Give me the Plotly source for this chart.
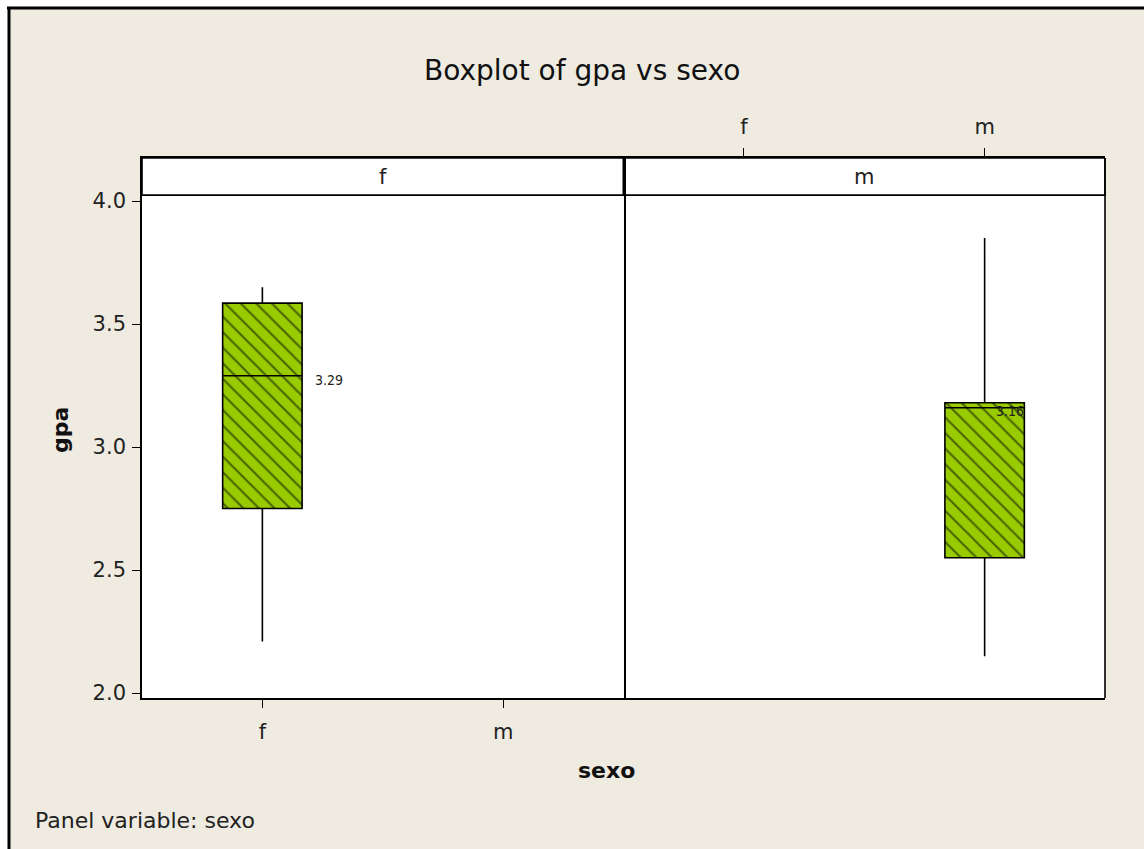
import plotly.graph_objects as go

# Summary statistics of gpa by sexo (one panel per level)
panels = ["f", "m"]
categories = ["f", "m"]
box_pos = [0, 1]            # category index of each panel's box
q1 = [2.75, 2.55]
median = [3.29, 3.16]
q3 = [3.585, 3.18]
low_whisker = [2.21, 2.15]
high_whisker = [3.65, 3.85]
y_ticks = [2.0, 2.5, 3.0, 3.5, 4.0]

BG = "#EFEBE1"
GREEN = "#99CC00"
FONT = "DejaVu Sans"

W, H = 1144, 849
L, R, T, B = 142, 39, 158, 151
PW, PH = W - L - R, H - T - B


def px_x(px):
    return (px - L) / PW


def px_y(py):
    return (H - B - py) / PH


fig = go.Figure()

axis_names = [("x", "y"), ("x2", "y2")]
for i, p in enumerate(panels):
    xa, ya = axis_names[i]
    fig.add_trace(go.Bar(
        x=[box_pos[i]], base=[q1[i]], y=[q3[i] - q1[i]], width=0.33,
        marker=dict(color=GREEN, line=dict(width=0),
                    pattern=dict(shape="\\", fgcolor="black", bgcolor=GREEN,
                                 size=11, solidity=0.2)),
        xaxis=xa, yaxis=ya, hoverinfo="skip", showlegend=False,
    ))
    fig.add_trace(go.Box(
        x=[box_pos[i]], q1=[q1[i]], median=[median[i]], q3=[q3[i]],
        lowerfence=[low_whisker[i]], upperfence=[high_whisker[i]],
        width=0.33, fillcolor="rgba(0,0,0,0)",
        line=dict(color="black", width=1.6), whiskerwidth=0,
        boxpoints=False, xaxis=xa, yaxis=ya, hoverinfo="skip", showlegend=False,
    ))

y_range = [1.98, 4.175]
strip_bottom = 4.024
TICK_FONT = dict(family=FONT, size=21, color="#222")

common_x = dict(range=[-0.5, 1.5], tickvals=[0, 1], ticktext=categories,
                showline=True, linecolor="black", linewidth=1.6, mirror=True,
                ticks="outside", ticklen=8, tickcolor="black", showgrid=False,
                zeroline=False, ticklabelstandoff=6, tickfont=TICK_FONT)
fig.update_layout(
    width=W, height=H,
    margin=dict(l=L, r=R, t=T, b=B),
    paper_bgcolor=BG, plot_bgcolor="white",
    showlegend=False, barmode="overlay",
    xaxis=dict(domain=[0, 0.5], anchor="y", side="bottom", **common_x),
    xaxis2=dict(domain=[0.5, 1], anchor="y2", side="top", **common_x),
    yaxis=dict(range=y_range, tickvals=y_ticks, ticktext=[f"{v:.1f}" for v in y_ticks],
               showline=True, linecolor="black", linewidth=1.6, mirror=True,
               ticks="outside", ticklen=8, tickcolor="black", showgrid=False,
               zeroline=False, ticklabelstandoff=2, tickfont=TICK_FONT),
    yaxis2=dict(range=y_range, anchor="x2", matches="y", showticklabels=False,
                showline=False, ticks="", showgrid=False, zeroline=False),
)

shapes = [
    # white margin outside the dark page frame (top and left)
    dict(type="rect", xref="paper", yref="paper", x0=px_x(-2), x1=px_x(W + 2),
         y0=px_y(7), y1=px_y(-2), fillcolor="white", line=dict(width=0)),
    dict(type="rect", xref="paper", yref="paper", x0=px_x(-2), x1=px_x(8),
         y0=px_y(H + 2), y1=px_y(-2), fillcolor="white", line=dict(width=0)),
    dict(type="line", xref="paper", yref="paper", x0=px_x(7), x1=px_x(W + 2),
         y0=px_y(8), y1=px_y(8), line=dict(color="black", width=3)),
    dict(type="line", xref="paper", yref="paper", x0=px_x(9), x1=px_x(9),
         y0=px_y(7), y1=px_y(H + 2), line=dict(color="black", width=3)),
    # right edge of the second panel
    dict(type="line", xref="x2 domain", yref="y2 domain", x0=1, x1=1, y0=0, y1=1,
         line=dict(color="black", width=1.6)),
]
for i, p in enumerate(panels):
    xa, ya = axis_names[i]
    shapes.append(dict(type="rect", xref=f"{xa} domain", yref=ya, x0=0, x1=1,
                       y0=strip_bottom, y1=y_range[1], fillcolor="white",
                       line=dict(color="black", width=1.6), layer="below"))

annotations = []
for i, p in enumerate(panels):
    xa, ya = axis_names[i]
    annotations.append(dict(xref=f"{xa} domain", yref=ya, x=0.5,
                            y=(strip_bottom + y_range[1]) / 2, text=p, showarrow=False,
                            xanchor="center", yanchor="middle",
                            font=dict(family=FONT, size=21, color="#222")))

# median value labels
LABEL_FONT = dict(family="DejaVu Sans Condensed, DejaVu Sans", size=14, color="#222")
annotations.append(dict(xref="x", yref="y", x=0.21, y=median[0], text=f"{median[0]:.2f}",
                        xanchor="left", yanchor="middle", yshift=-4, showarrow=False,
                        font=LABEL_FONT))
annotations.append(dict(xref="x2", yref="y2", x=1.04, y=median[1], text=f"{median[1]:.2f}",
                        xanchor="left", yanchor="middle", yshift=-3, showarrow=False,
                        font=LABEL_FONT))

annotations += [
    dict(xref="paper", yref="paper", x=px_x(582), y=px_y(70), text="Boxplot of gpa vs sexo",
         xanchor="center", yanchor="middle", showarrow=False,
         font=dict(family=FONT, size=28, color="#111")),
    dict(xref="paper", yref="paper", x=px_x(60), y=px_y(430), text="<b>gpa</b>", textangle=-90,
         xanchor="center", yanchor="middle", showarrow=False,
         font=dict(family=FONT, size=22, color="#111")),
    dict(xref="paper", yref="paper", x=px_x(606), y=px_y(770), text="<b>sexo</b>",
         xanchor="center", yanchor="middle", showarrow=False,
         font=dict(family=FONT, size=22, color="#111")),
    dict(xref="paper", yref="paper", x=px_x(33), y=px_y(820), text="Panel variable: sexo",
         xanchor="left", yanchor="middle", showarrow=False,
         font=dict(family=FONT, size=22, color="#222")),
]

fig.update_layout(shapes=shapes, annotations=annotations)
fig.write_html("out.html")
